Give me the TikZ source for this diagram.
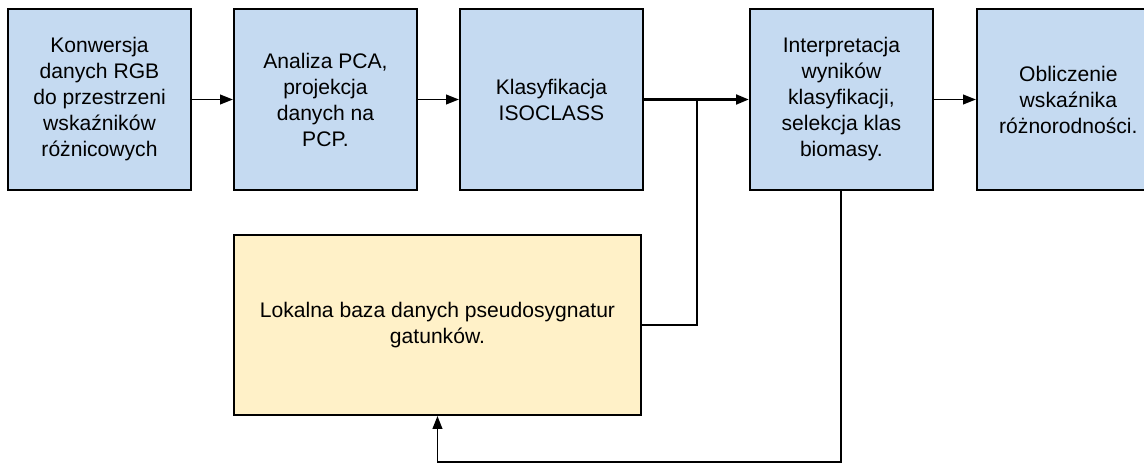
\documentclass[tikz,border=0pt]{standalone}
\usepackage{fontspec}
\setmainfont{Liberation Sans}
\usetikzlibrary{positioning}
\usetikzlibrary{arrows.meta}
\definecolor{boxblue}{RGB}{197,218,241}
\definecolor{boxyellow}{RGB}{255,241,200}
\tikzset{
  stepbox/.style={draw, line width=1.4pt, fill=boxblue,
    minimum width=4.575cm, minimum height=4.525cm,
    align=center, font=\fontsize{15}{18.5}\selectfont},
  flow/.style={line width=1.3pt, -{Triangle[length=0.32cm,width=0.24cm]}}
}

\begin{document}
\begin{tikzpicture}
\useasboundingbox (-2.4875,2.4875) rectangle (26.1125,-9.0875);
 % Top row
 \node[stepbox] (conv) at (0,0){Konwersja\\danych RGB\\do przestrzeni\\wskaźników\\różnicowych};

% PCA
\node [stepbox,
    right=1.025cm of conv
]  (pca) {Analiza PCA,\\projekcja\\danych na\\PCP.};

% Classification
\node [stepbox,
    right=1.025cm of pca
] (isoclass) {Klasyfikacja\\ISOCLASS};

% Interpretation
\node [stepbox,
    right=2.625cm of isoclass
] (interp) {Interpretacja\\wyników\\klasyfikacji,\\selekcja klas\\biomasy.};

% Index
\node [stepbox,
    right=1.05cm of interp
] (index) {Obliczenie\\wskaźnika\\różnorodności.};

% Local database
\node [stepbox, fill=boxyellow,
    minimum width=10.175cm,
    minimum height=4.5cm,
    below=1.075cm of pca.south west, anchor=north west
] (database) {Lokalna baza danych pseudosygnatur\\gatunków.};

% Arrows
\draw[flow] (conv.east) -- (pca.west);
\draw[flow] (pca.east) -- (isoclass.west);
\draw[flow, line width=2pt] (isoclass.east) -- (interp.west);
\draw[flow] (interp.east) -- (index.west);

\coordinate[right=1.325cm of isoclass.east] (junct);
\draw[line width=1.3pt] (database.east) -| (junct);

\coordinate[below=6.775cm of interp.south] (fbk);
\draw[flow] (interp.south) -- (fbk) -| (database.south);

\end{tikzpicture}
\end{document}
